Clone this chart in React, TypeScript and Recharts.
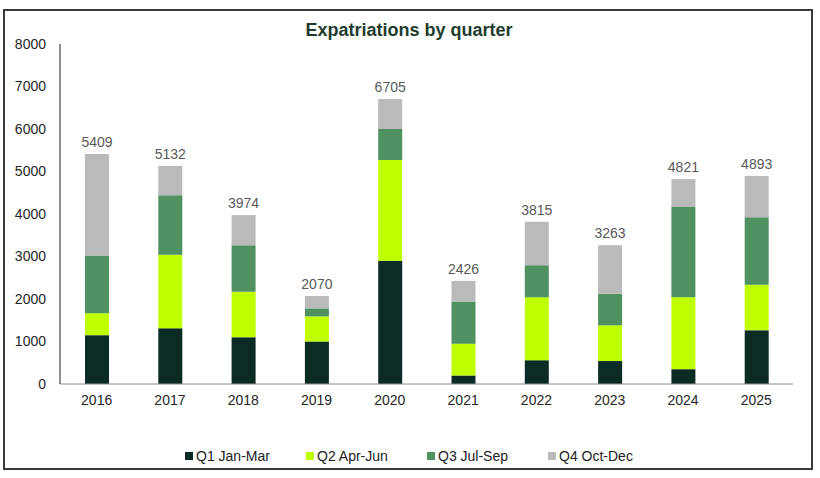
import { BarChart, Bar, XAxis, YAxis, Legend, LabelList } from 'recharts';

// values, per quarter
const years = ['2016', '2017', '2018', '2019', '2020', '2021', '2022', '2023', '2024', '2025'];
const q1 = [1150, 1310, 1100, 1000, 2900, 200, 560, 540, 350, 1265];
const q2 = [515, 1730, 1072, 590, 2370, 750, 1480, 840, 1690, 1070];
const q3 = [1360, 1400, 1091, 190, 730, 990, 755, 745, 2125, 1590];
const q4 = [2384, 692, 711, 290, 705, 486, 1020, 1138, 656, 968];
const totals = [5409, 5132, 3974, 2070, 6705, 2426, 3815, 3263, 4821, 4893];
const yTicks = [0, 1000, 2000, 3000, 4000, 5000, 6000, 7000, 8000];

const series = [
  { key: 'q1', name: 'Q1 Jan-Mar', color: '#0b2b24' },
  { key: 'q2', name: 'Q2 Apr-Jun', color: '#bfff00' },
  { key: 'q3', name: 'Q3 Jul-Sep', color: '#4f9160' },
  { key: 'q4', name: 'Q4 Oct-Dec', color: '#bababa' },
];

const data = years.map((year, i) => ({
  year,
  q1: q1[i],
  q2: q2[i],
  q3: q3[i],
  q4: q4[i],
  total: totals[i],
}));

const font = 'Arial, "Liberation Sans", sans-serif';

function LegendContent() {
  return (
    <div style={{ display: 'flex', justifyContent: 'flex-start', paddingLeft: 185, height: 20, alignItems: 'center', fontFamily: font, fontSize: 14, color: '#222' }}>
      {series.map((s) => (
        <div key={s.key} style={{ width: 121, display: 'flex', alignItems: 'center' }}>
          <span style={{ width: 8, height: 8, background: s.color, marginRight: 3, display: 'inline-block' }} />
          <span>{s.name}</span>
        </div>
      ))}
    </div>
  );
}

export default function App() {
  return (
    <div style={{ position: 'absolute', left: 0, top: 0, width: 820, height: 478, background: '#fff' }}>
      <div
        style={{
          position: 'absolute',
          left: 3,
          top: 9,
          width: 806,
          height: 457,
          border: '2px solid #3a3a3a',
        }}
      />
      <div
        style={{
          position: 'absolute',
          left: 0,
          width: 818,
          top: 20,
          textAlign: 'center',
          fontFamily: font,
          fontWeight: 'bold',
          fontSize: 18,
          color: '#1d3c2e',
        }}
      >
        Expatriations by quarter
      </div>
      <BarChart
        width={820}
        height={478}
        data={data}
        margin={{ top: 44, right: 27, left: 0, bottom: 12 }}
        barSize={24}
        style={{ position: 'absolute', left: 0, top: 0, fontFamily: font }}
      >
        <XAxis
          dataKey="year"
          height={62}
          tickLine={false}
          axisLine={{ stroke: '#8c8c8c' }}
          tickMargin={5}
          tick={{ fontSize: 14, fill: '#262626' }}
        />
        <YAxis
          width={60}
          domain={[0, 8000]}
          ticks={yTicks}
          tickLine={false}
          axisLine={{ stroke: '#222' }}
          tickMargin={8}
          tick={{ fontSize: 14, fill: '#262626' }}
        />
        <Legend verticalAlign="bottom" height={20} content={<LegendContent />} />
        {series.map((s) => (
          <Bar key={s.key} dataKey={s.key} name={s.name} stackId="a" fill={s.color} isAnimationActive={false}>
            {s.key === 'q4' && (
              <LabelList dataKey="total" position="top" offset={7} fill="#595959" fontSize={14} />
            )}
          </Bar>
        ))}
      </BarChart>
    </div>
  );
}
